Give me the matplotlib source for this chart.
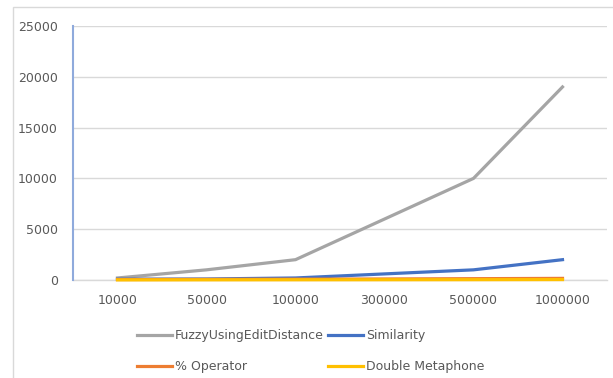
import matplotlib
matplotlib.use('Agg')
import matplotlib.pyplot as plt
from matplotlib.patches import Rectangle

# data
sizes = ['10000', '50000', '100000', '300000', '500000', '1000000']
fuzzy = [200, 1000, 2000, 6000, 10000, 19000]
similarity = [80, 100, 200, 600, 1000, 2000]
percent_op = [50, 60, 80, 100, 130, 160]
double_meta = [10, 15, 20, 25, 30, 40]

plt.rcParams['font.family'] = ['DejaVu Sans']

fig = plt.figure(figsize=(6.13, 3.78), dpi=100)
fig.patches.append(Rectangle((13 / 613, -0.1), 1.2, 1 - 7 / 378 + 0.1, transform=fig.transFigure,
                             fill=False, edgecolor='#d9d9d9', linewidth=1))

ax = fig.add_axes([73 / 613, 1 - 280 / 378, 534 / 613, 254 / 378])
x = range(len(sizes))
lw = 2.3
ax.axhline(0, color='#d9d9d9', linewidth=1, clip_on=False, zorder=0)
l_fuzzy, = ax.plot(x, fuzzy, color='#a5a5a5', lw=lw, label='FuzzyUsingEditDistance', clip_on=False)
l_sim, = ax.plot(x, similarity, color='#4472c4', lw=lw, label='Similarity', clip_on=False)
l_op, = ax.plot(x, percent_op, color='#ed7d31', lw=lw, label='% Operator', clip_on=False)
l_dm, = ax.plot(x, double_meta, color='#ffc000', lw=lw, label='Double Metaphone', clip_on=False)

ax.set_xlim(-0.5, len(sizes) - 0.5)
ax.set_ylim(0, 25000)
ax.set_yticks(range(0, 25001, 5000))
ax.set_xticks(list(x))
ax.set_xticklabels(sizes)
ax.grid(axis='y', color='#d9d9d9', linewidth=1)
ax.set_axisbelow(True)
for s in ['top', 'right', 'bottom']:
    ax.spines[s].set_visible(False)
ax.spines['left'].set_color('#8faadc')
ax.spines['left'].set_linewidth(1.5)
ax.tick_params(length=0, labelsize=9, colors='#595959')
ax.tick_params(axis='y', pad=11)
ax.tick_params(axis='x', pad=10)

fig.legend([l_fuzzy, l_op, l_sim, l_dm],
           ['FuzzyUsingEditDistance', '% Operator', 'Similarity', 'Double Metaphone'],
           ncol=2, loc='upper left', bbox_to_anchor=(137 / 613, 1 - 329 / 378),
           frameon=False, fontsize=9, handlelength=2.8, handletextpad=0.25,
           columnspacing=0.3, labelspacing=1.45, borderpad=0, borderaxespad=0,
           labelcolor='#595959')

fig.savefig('out.png', dpi=100)
